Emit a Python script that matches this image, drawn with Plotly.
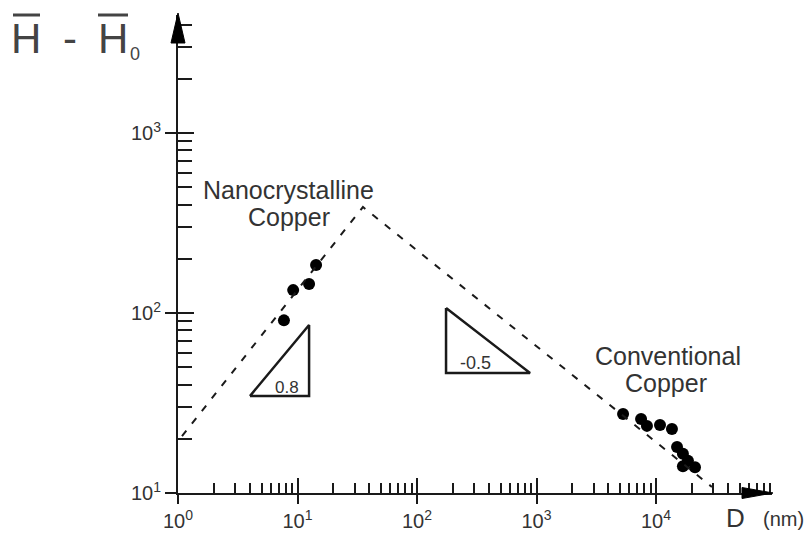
import numpy as np
import plotly.graph_objects as go

# ---------------- data ----------------
nano_d = [7.7, 9.2, 12.5, 14.3]
nano_h = [91, 134, 145, 185]

conv_d = [5300, 7500, 8400, 10800, 13600, 15000, 16800, 18500, 16800, 21200]
conv_h = [27.5, 25.8, 23.6, 23.9, 22.7, 18.0, 16.5, 15.1, 14.1, 13.9]

fit_d = [1.08, 35.3, 29400]
fit_h = [20.7, 388, 10.8]

tri1_d = [4.0, 12.5, 12.5, 4.0]
tri1_h = [34.6, 34.6, 85.8, 34.6]
tri2_d = [175, 175, 883, 175]
tri2_h = [106.6, 46.4, 46.4, 106.6]

x_major = [1, 10, 100, 1000, 10000]
x_major_text = ["10<sup>0</sup>", "10<sup>1</sup>", "10<sup>2</sup>", "10<sup>3</sup>", "10<sup>4</sup>"]
y_major = [10, 100, 1000]
y_major_text = ["10<sup>1</sup>", "10<sup>2</sup>", "10<sup>3</sup>"]

x_minor = [k * 10 ** n for n in range(0, 5) for k in range(2, 10)]
y_minor = [k * 10 ** n for n in range(1, 4) for k in range(2, 10)]

# label text, position (D, H), font size
label_text = ["Nanocrystalline", "Copper", "Conventional", "Copper", "0.8", "-0.5"]
label_d = [8.33, 8.49, 12600, 12130, 8.17, 306]
label_h = [482, 341, 57.7, 40.8, 38.8, 52.7]
label_size = [25, 25, 25, 25, 17, 18]

# ---------------- layout geometry ----------------
W, H = 810, 533
L, R, T, B = 178, 38, 15, 40
pw, ph = W - L - R, H - T - B
XDEC, YDEC = 119.5, 180.0
xr = [0, pw / XDEC]
yr = [1, 1 + ph / YDEC]


def px(x):
    return (x - L) / pw


def py(y):
    return (H - B - y) / ph


INK = "#1a1a1a"
TXT = "#333333"
FONT = "Liberation Sans, Arial, Helvetica, sans-serif"

fig = go.Figure()

fig.add_trace(go.Scatter(x=fit_d, y=fit_h, mode="lines", xaxis="x2", yaxis="y2",
                         line=dict(color=INK, width=2, dash="7px,9px"),
                         hoverinfo="skip", showlegend=False))
fig.add_trace(go.Scatter(x=tri1_d, y=tri1_h, mode="lines",
                         line=dict(color=INK, width=2.5), showlegend=False))
fig.add_trace(go.Scatter(x=tri2_d, y=tri2_h, mode="lines",
                         line=dict(color=INK, width=2.5), showlegend=False))
fig.add_trace(go.Scatter(x=nano_d, y=nano_h, mode="markers",
                         marker=dict(color="black", size=12), showlegend=False))
fig.add_trace(go.Scatter(x=conv_d, y=conv_h, mode="markers",
                         marker=dict(color="black", size=12), showlegend=False))

axis_common = dict(showgrid=False, zeroline=False, type="log", automargin=False)

fig.update_layout(
    width=W, height=H,
    margin=dict(l=L, r=R, t=T, b=B, pad=0, autoexpand=False),
    paper_bgcolor="white", plot_bgcolor="white",
    font=dict(family=FONT, color=TXT),
    xaxis=dict(**axis_common, range=xr, tickmode="array", tickvals=x_major, ticktext=x_major_text,
               ticks="outside", ticklen=9, tickwidth=2, tickcolor=INK, ticklabelstandoff=0,
               showline=True, linewidth=2, linecolor=INK,
               tickfont=dict(size=20, color=TXT),
               minor=dict(tickvals=x_minor, ticks="inside", ticklen=10, tickwidth=1.5, tickcolor=INK)),
    yaxis=dict(**axis_common, range=yr, tickmode="array", tickvals=y_major, ticktext=y_major_text,
               ticks="outside", ticklen=11, tickwidth=2, tickcolor=INK,
               showline=True, linewidth=2, linecolor=INK,
               tickfont=dict(size=20, color=TXT),
               minor=dict(tickvals=y_minor, ticks="inside", ticklen=14, tickwidth=2, tickcolor=INK)),
    xaxis2=dict(**axis_common, range=xr, overlaying="x", anchor="y2", side="bottom",
                tickmode="array", tickvals=x_major, ticks="inside", ticklen=15, tickwidth=2,
                tickcolor=INK, showticklabels=False, showline=False),
    yaxis2=dict(**axis_common, range=yr, overlaying="y", anchor="x2", side="left",
                tickmode="array", tickvals=y_major, ticks="inside", ticklen=16, tickwidth=2,
                tickcolor=INK, showticklabels=False, showline=False),
)

# ---------------- text labels (data coordinates) ----------------
for txt, d, h, s in zip(label_text, label_d, label_h, label_size):
    fig.add_annotation(x=np.log10(d), y=np.log10(h), xref="x", yref="y", text=txt,
                       showarrow=False, font=dict(size=s, color=TXT, family=FONT),
                       xanchor="center", yanchor="middle")

# ---------------- axis titles ----------------
NARROW = "Liberation Sans Narrow, Arial Narrow, Liberation Sans, Arial, sans-serif"
TCOL = "#444444"
fig.add_annotation(x=px(26), y=py(38), xref="paper", yref="paper", text="H", showarrow=False,
                   font=dict(size=42, color=TCOL, family=NARROW), xanchor="center", yanchor="middle")
fig.add_annotation(x=px(70), y=py(38), xref="paper", yref="paper", text="-", showarrow=False,
                   font=dict(size=42, color=TCOL, family=NARROW), xanchor="center", yanchor="middle")
fig.add_annotation(x=px(113), y=py(38), xref="paper", yref="paper", text="H", showarrow=False,
                   font=dict(size=42, color=TCOL, family=NARROW), xanchor="center", yanchor="middle")
fig.add_annotation(x=px(135), y=py(54), xref="paper", yref="paper", text="0", showarrow=False,
                   font=dict(size=18, color=TCOL, family=NARROW), xanchor="center", yanchor="middle")
fig.add_annotation(x=px(735), y=py(518), xref="paper", yref="paper", text="D", showarrow=False,
                   font=dict(size=26, color=TXT, family=FONT), xanchor="center", yanchor="middle")
fig.add_annotation(x=px(783), y=py(519), xref="paper", yref="paper", text="(nm)", showarrow=False,
                   font=dict(size=20, color=TXT, family=FONT), xanchor="center", yanchor="middle")

# ---------------- decorations: overbars, arrows, axis stub ----------------
shapes = [
    dict(type="line", xref="paper", yref="paper", x0=px(13), x1=px(40), y0=py(15), y1=py(15),
         line=dict(color=TCOL, width=3)),
    dict(type="line", xref="paper", yref="paper", x0=px(98), x1=px(128), y0=py(15), y1=py(15),
         line=dict(color=TCOL, width=3)),
    dict(type="line", xref="paper", yref="paper", x0=px(166), x1=px(178), y0=py(493), y1=py(493),
         line=dict(color=INK, width=2)),
    dict(type="path", xref="paper", yref="paper",
         path=f"M {px(178)},{py(13)} L {px(171)},{py(43)} L {px(185)},{py(43)} Z",
         fillcolor="black", line=dict(color="black", width=1)),
    dict(type="path", xref="paper", yref="paper",
         path=f"M {px(773)},{py(493)} L {px(742)},{py(487.5)} L {px(742)},{py(498.5)} Z",
         fillcolor="black", line=dict(color="black", width=1)),
]
fig.update_layout(shapes=shapes)

fig.write_html("out.html")
